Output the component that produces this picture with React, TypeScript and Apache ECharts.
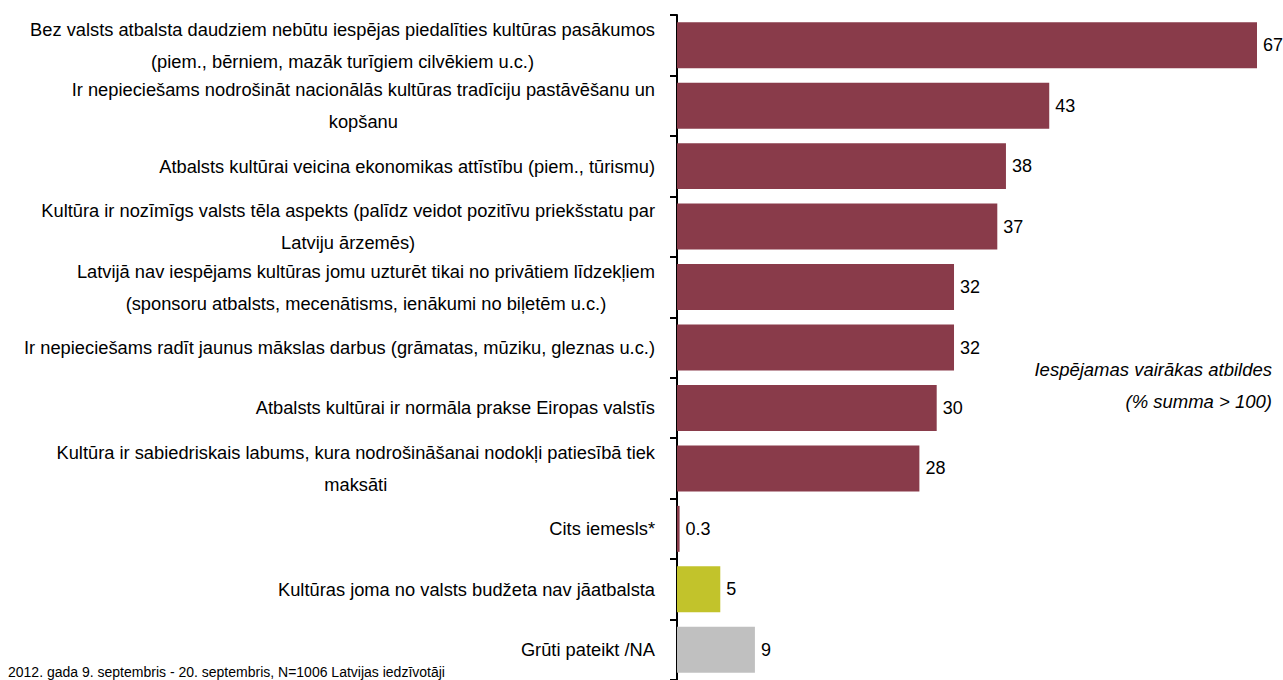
import React, { useEffect, useRef } from "react";
import * as echarts from "echarts";

const categories = [
  "Bez valsts atbalsta daudziem nebūtu iespējas piedalīties kultūras pasākumos\n(piem., bērniem, mazāk turīgiem cilvēkiem u.c.)",
  "Ir nepieciešams nodrošināt nacionālās kultūras tradīciju pastāvēšanu un\nkopšanu",
  "Atbalsts kultūrai veicina ekonomikas attīstību (piem., tūrismu)",
  "Kultūra ir nozīmīgs valsts tēla aspekts (palīdz veidot pozitīvu priekšstatu par\nLatviju ārzemēs)",
  "Latvijā nav iespējams kultūras jomu uzturēt tikai no privātiem līdzekļiem\n(sponsoru atbalsts, mecenātisms, ienākumi no biļetēm u.c.)",
  "Ir nepieciešams radīt jaunus mākslas darbus (grāmatas, mūziku, gleznas u.c.)",
  "Atbalsts kultūrai ir normāla prakse Eiropas valstīs",
  "Kultūra ir sabiedriskais labums, kura nodrošināšanai nodokļi patiesībā tiek\nmaksāti",
  "Cits iemesls*",
  "Kultūras joma no valsts budžeta nav jāatbalsta",
  "Grūti pateikt /NA",
];
const values = [67, 43, 38, 37, 32, 32, 30, 28, 0.3, 5, 9];
const barColors = [
  "#893B4A", "#893B4A", "#893B4A", "#893B4A", "#893B4A", "#893B4A",
  "#893B4A", "#893B4A", "#893B4A", "#C2C32B", "#C0C0C0",
];
const noteLines = ["Iespējamas vairākas atbildes", "(% summa > 100)"];
const footnote = "2012. gada 9. septembris - 20. septembris, N=1006 Latvijas iedzīvotāji";

const FONT = "'Liberation Sans', Arial, sans-serif";

export default function App() {
  const ref = useRef<HTMLDivElement>(null);
  useEffect(() => {
    if (!ref.current) return;
    const chart = echarts.init(ref.current, null, { renderer: "svg" });
    chart.setOption({
      animation: false,
      backgroundColor: "#ffffff",
      grid: { left: 677, top: 15, width: 580, height: 668, containLabel: false },
      xAxis: {
        type: "value",
        min: 0,
        max: 67,
        show: false,
      },
      yAxis: {
        type: "category",
        inverse: true,
        data: categories,
        axisLine: { show: true, lineStyle: { color: "#000", width: 2 } },
        axisTick: { show: true, length: 7, lineStyle: { color: "#000", width: 2 } },
        axisLabel: {
          margin: 22,
          formatter: (v: string) =>
            v.split("\n").map((l) => `{c|${l}}`).join("\n"),
          rich: {
            c: {
              align: "center",
              fontFamily: FONT,
              fontSize: 18.3,
              lineHeight: 32,
              color: "#000",
            },
          },
        },
        splitLine: { show: false },
      },
      series: [
        {
          type: "bar",
          barCategoryGap: "24%",
          data: values.map((v, i) => ({ value: v, itemStyle: { color: barColors[i] } })),
          label: {
            show: true,
            position: "right",
            distance: 6,
            fontFamily: FONT,
            fontSize: 18,
            color: "#000",
          },
        },
      ],
      graphic: [
        ...noteLines.map((t, i) => ({
          type: "text",
          x: 1272,
          y: 369 + i * 32,
          style: {
            text: t,
            align: "right",
            verticalAlign: "middle",
            fontFamily: FONT,
            fontStyle: "italic",
            fontSize: 18.5,
            fill: "#000",
          },
        })),
        {
          type: "text",
          x: 8,
          y: 672,
          style: {
            text: footnote,
            verticalAlign: "middle",
            fontFamily: FONT,
            fontSize: 14,
            fill: "#000",
          },
        },
      ],
    });
    return () => chart.dispose();
  }, []);
  return (
    <div
      ref={ref}
      style={{ position: "absolute", left: 0, top: 0, width: 1283, height: 680 }}
    />
  );
}
